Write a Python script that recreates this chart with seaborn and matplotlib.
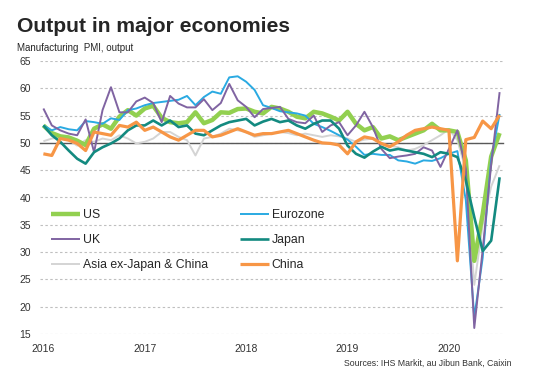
import matplotlib
matplotlib.use('Agg')
import matplotlib.pyplot as plt
import numpy as np
import pandas
import seaborn as sns

# Monthly index, Jan 2016 .. Jul 2020
MONTHS = list(range(55))
YEAR_POS = [0, 12, 24, 36, 48]
YEAR_LABS = ['2016', '2017', '2018', '2019', '2020']
YTICKS = [15, 20, 25, 30, 35, 40, 45, 50, 55, 60, 65]

US = [53.2, 51.8, 51.2, 51.0, 50.4, 49.6, 52.6, 53.4, 52.6, 54.8,
    56.0, 55.0, 56.3, 56.8, 54.6, 53.8, 53.6, 53.8, 55.6, 53.6,
    54.2, 55.6, 55.5, 56.2, 56.3, 55.7, 55.4, 56.6, 56.3, 55.7,
    54.8, 54.5, 55.7, 55.4, 54.8, 54.1, 55.7, 53.5, 52.3, 52.9,
    50.8, 51.2, 50.5, 51.1, 51.7, 52.3, 53.5, 52.3, 52.3, 52.0,
    46.8, 28.4, 37.0, 47.5, 51.8]
EUROZONE = [53.2, 52.3, 52.9, 52.5, 52.3, 54.0, 53.8, 53.5, 54.5, 54.2,
    56.0, 56.3, 56.9, 57.3, 57.5, 57.7, 57.9, 58.6, 56.9, 58.4,
    59.4, 59.0, 62.0, 62.2, 61.2, 59.7, 56.9, 56.4, 55.8, 55.6,
    55.4, 55.0, 53.5, 52.9, 52.2, 51.4, 50.6, 49.3, 47.8, 48.0,
    47.8, 47.8, 46.8, 46.6, 46.2, 46.8, 46.7, 47.2, 48.0, 48.5,
    39.5, 18.0, 29.0, 47.0, 55.3]
UK = [56.3, 53.2, 52.3, 51.7, 51.4, 54.3, 48.3, 56.0, 60.2, 55.6,
    55.6, 57.6, 58.3, 57.3, 53.8, 58.6, 57.2, 56.5, 56.5, 58.0,
    56.0, 57.3, 60.8, 57.8, 56.6, 54.7, 56.2, 56.4, 56.6, 54.4,
    53.8, 53.6, 55.0, 52.0, 53.2, 53.8, 51.4, 53.2, 55.7, 52.9,
    48.9, 47.2, 47.5, 47.7, 48.0, 49.2, 48.6, 45.6, 48.9, 52.3,
    45.2, 16.1, 30.5, 46.0, 59.3]
JAPAN = [53.2, 51.4, 50.2, 48.6, 47.1, 46.2, 48.3, 49.2, 49.9, 50.8,
    52.3, 53.2, 53.2, 54.1, 53.2, 54.1, 52.9, 53.2, 51.7, 51.4,
    52.3, 53.2, 53.8, 54.1, 54.4, 53.2, 53.9, 54.4, 53.8, 54.1,
    53.2, 52.6, 53.5, 54.1, 54.1, 52.6, 49.5, 48.0, 47.3, 48.4,
    49.3, 48.6, 48.9, 48.6, 48.3, 48.0, 47.4, 48.3, 48.0, 47.4,
    43.1, 36.4, 30.2, 32.1, 43.7]
ASIA = [50.3, 50.8, 51.0, 50.5, 49.5, 50.5, 50.2, 50.8, 50.5, 51.4,
    50.8, 49.9, 50.2, 50.8, 52.0, 52.0, 51.1, 50.5, 47.7, 50.8,
    51.1, 51.7, 52.6, 52.3, 52.0, 51.1, 51.4, 51.7, 52.0, 51.8,
    51.4, 51.7, 51.4, 51.1, 51.4, 51.2, 50.8, 50.2, 50.6, 50.8,
    49.8, 49.5, 49.2, 48.6, 48.9, 49.6, 50.5, 51.4, 52.5, 50.5,
    45.0, 24.0, 35.0, 42.0, 45.9]
CHINA = [48.0, 47.7, 50.8, 50.5, 49.9, 48.6, 52.0, 51.7, 51.4, 53.2,
    52.9, 53.8, 52.3, 52.9, 52.0, 51.1, 50.5, 51.4, 52.3, 52.3,
    51.1, 51.4, 52.0, 52.6, 52.0, 51.4, 51.7, 51.7, 52.0, 52.3,
    51.7, 51.1, 50.5, 50.0, 49.9, 49.6, 48.0, 50.2, 51.1, 50.8,
    49.9, 49.3, 50.2, 51.4, 52.3, 52.6, 52.9, 52.6, 52.3, 28.4,
    50.6, 51.0, 54.0, 52.6, 55.1]

SERIES = ['US', 'UK', 'Asia ex-Japan & China', 'Eurozone', 'Japan', 'China']
VALUES = [US, UK, ASIA, EUROZONE, JAPAN, CHINA]
COLORS = {'US': '#92D050', 'UK': '#8064A2', 'Asia ex-Japan & China': '#D4D4D4',
    'Eurozone': '#2AAAE2', 'Japan': '#138A80', 'China': '#F79646'}
WIDTHS = {'US': 3.2, 'UK': 1.4, 'Asia ex-Japan & China': 1.4,
    'Eurozone': 1.4, 'Japan': 1.9, 'China': 2.3}
# drawing order (bottom to top)
DRAW = ['Asia ex-Japan & China', 'US', 'Eurozone', 'UK', 'Japan', 'China']

plot_df = pandas.concat([pandas.DataFrame({'month': MONTHS, 'value': v,
    'series': np.repeat(s, len(v))}) for s, v in zip(SERIES, VALUES)])

sns.set_style('white')
plt.rcParams['font.family'] = ['Liberation Sans', 'DejaVu Sans']

fig = plt.figure(figsize=(5.4, 3.82), dpi=100)
ax = fig.add_axes([40/540, 48/382, 463/540, 273/382])

handles = {}
for s in DRAW:
    sns.lineplot(x='month', y='value', data=plot_df[plot_df['series'] == s],
        color=COLORS[s], lw=WIDTHS[s], ax=ax, solid_joinstyle='round',
        solid_capstyle='butt')
    handles[s] = ax.lines[-1]

ax.set_xlim(-0.4, 54.4)
ax.set_ylim(15, 65)
ax.set_yticks(YTICKS)
ax.yaxis.grid(True, linestyle=(0, (2.2, 2.2)), color='#BFBFBF', lw=0.8)
ax.set_axisbelow(True)
for sp in ['left', 'right', 'top']:
    ax.spines[sp].set_visible(False)
ax.spines['bottom'].set_position(('data', 50))
ax.spines['bottom'].set_color('#595959')
ax.spines['bottom'].set_linewidth(1.0)
ax.spines['bottom'].set_zorder(1.5)
ax.set_xticks([11.5, 23.5, 35.5, 47.5])
ax.tick_params(axis='x', direction='inout', length=4, width=0.8,
    color='#595959', labelbottom=False)
ax.tick_params(axis='y', length=0, pad=6.5, labelsize=7.5, labelcolor='#333333')
ax.set_xlabel('')
ax.set_ylabel('')

sec = ax.secondary_xaxis('bottom')
sec.set_xticks(YEAR_POS)
sec.set_xticklabels(YEAR_LABS)
sec.tick_params(length=0, pad=7, labelsize=7.5, labelcolor='#333333')
sec.spines['bottom'].set_visible(False)

leg = ax.legend(handles=[handles[s] for s in SERIES], labels=SERIES, ncol=2,
    frameon=False, fontsize=8.8, handlelength=2.4, handletextpad=0.2,
    columnspacing=2.6, labelspacing=1.05, borderpad=0, loc='upper left',
    bbox_to_anchor=(45/540, 1 - 203/382), bbox_transform=fig.transFigure)

fig.text(17/540, 1 - 31.7/382, 'Output in major economies', fontsize=15.2,
    fontweight='bold', va='baseline', ha='left')
fig.text(17/540, 1 - 50.7/382, 'Manufacturing  PMI, output', fontsize=7,
    va='baseline', ha='left')
fig.text(512/540, 1 - 365.7/382, 'Sources: IHS Markit, au Jibun Bank, Caixin',
    fontsize=6.3, va='baseline', ha='right', color='#333333')

fig.savefig('out.png', dpi=100)
